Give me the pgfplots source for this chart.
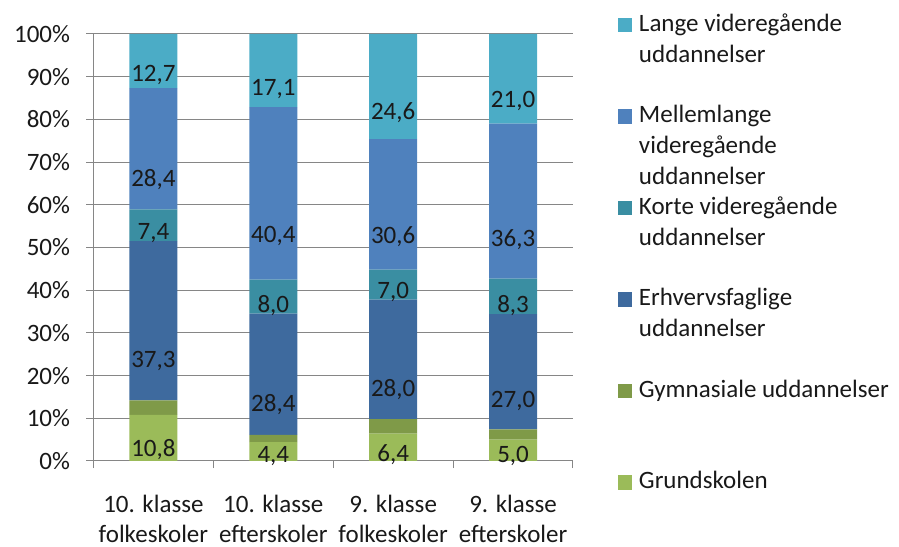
\documentclass[border=0pt]{standalone}
\usepackage{pgfplots}
\pgfplotsset{compat=1.18}
\usepackage{pgfplotstable}
\usepackage{fontspec}
\setmainfont{Carlito}

\definecolor{cLange}{HTML}{4BACC6}
\definecolor{cMellem}{HTML}{4F81BD}
\definecolor{cKorte}{HTML}{3A8EA2}
\definecolor{cErhv}{HTML}{3E6A9E}
\definecolor{cGym}{HTML}{7F9A48}
\definecolor{cGrund}{HTML}{9BBB59}
\definecolor{gridc}{HTML}{868686}

\pgfplotstableread{
x v lab
0 10.8 10,8
1 4.4 4,4
2 6.4 6,4
3 5.0 5,0
}\grund
\pgfplotstableread{
x v
0 3.4
1 1.7
2 3.4
3 2.4
}\gym
\pgfplotstableread{
x v lab
0 37.3 37,3
1 28.4 28,4
2 28.0 28,0
3 27.0 27,0
}\erhv
\pgfplotstableread{
x v lab
0 7.4 7,4
1 8.0 8,0
2 7.0 7,0
3 8.3 8,3
}\korte
\pgfplotstableread{
x v lab
0 28.4 28,4
1 40.4 40,4
2 30.6 30,6
3 36.3 36,3
}\mellem
\pgfplotstableread{
x v lab
0 12.7 12,7
1 17.1 17,1
2 24.6 24,6
3 21.0 21,0
}\lange

\newcommand{\fnt}{\fontsize{25bp}{30bp}\selectfont}
\newcommand{\legtxt}[1]{\parbox[t]{250bp}{\fontsize{25bp}{31bp}\selectfont #1}}

\begin{document}
\begin{tikzpicture}
\begin{axis}[
  scale only axis, width=479.5bp, height=427bp,
  ybar stacked, bar width=0.4,
  xmin=-0.5, xmax=3.5, ymin=0, ymax=100,
  axis lines*=left,
  axis line style={gridc, line width=1bp},
  ytick={0,10,...,100},
  yticklabels={0\%,10\%,20\%,30\%,40\%,50\%,60\%,70\%,80\%,90\%,100\%},
  ymajorgrids, grid style={gridc, line width=1bp},
  tick align=outside, tick style={gridc, line width=1bp}, major tick length=7bp,
  xtick={-0.5,0.5,1.5,2.5,3.5}, xticklabels={},
  extra x ticks={0,1,2,3},
  extra x tick labels={10. klasse\\folkeskoler,10. klasse\\efterskoler,9. klasse\\folkeskoler,9. klasse\\efterskoler},
  extra x tick style={major tick length=0pt, tick label style={align=center, yshift=-31bp}},
  tick label style={font=\fnt, text=black!90},
  yticklabel style={xshift=-13bp},
  legend image code/.code={\fill[#1] (0bp,-1bp) rectangle (14.4bp,13.4bp); \path (21.5bp,0bp);},
  reverse legend,
  legend style={at={(1,1)}, anchor=north west, xshift=44.3bp, yshift=21bp,
    draw=none, fill=none, inner sep=0pt, row sep=65.5bp, column sep=0pt,
    cells={anchor=base west},
    nodes={inner sep=0pt, text=black!90, text height=18bp, text depth=8bp}},
  lab/.style={nodes near coords, point meta=explicit symbolic,
    visualization depends on={\thisrow{v} \as \rawy},
    every node near coord/.append style={anchor=center, font=\fnt, text=black!90,
      shift={(axis direction cs:0,-\rawy/4)}}},
]
\addplot[fill=cGrund, draw=none, lab] table[x=x, y=v, meta=lab] {\grund};
\addlegendentry{\legtxt{Grundskolen}}
\addplot[fill=cGym, draw=none] table[x=x, y=v] {\gym};
\addlegendentry{\legtxt{Gymnasiale~uddannelser}}
\addplot[fill=cErhv, draw=none, lab] table[x=x, y=v, meta=lab] {\erhv};
\addlegendentry{\legtxt{Erhvervsfaglige\\uddannelser}}
\addplot[fill=cKorte, draw=none, lab] table[x=x, y=v, meta=lab] {\korte};
\addlegendentry{\legtxt{Korte videregående\\uddannelser}}
\addplot[fill=cMellem, draw=none, lab] table[x=x, y=v, meta=lab] {\mellem};
\addlegendentry{\legtxt{Mellemlange\\videregående\\uddannelser}}
\addplot[fill=cLange, draw=none, lab] table[x=x, y=v, meta=lab] {\lange};
\addlegendentry{\legtxt{Lange videregående\\uddannelser}}
\coordinate (O) at (rel axis cs:0,0);
\end{axis}
\path (O) ++(-93.5bp,461bp) ++(899bp,-545bp);
\end{tikzpicture}
\end{document}
